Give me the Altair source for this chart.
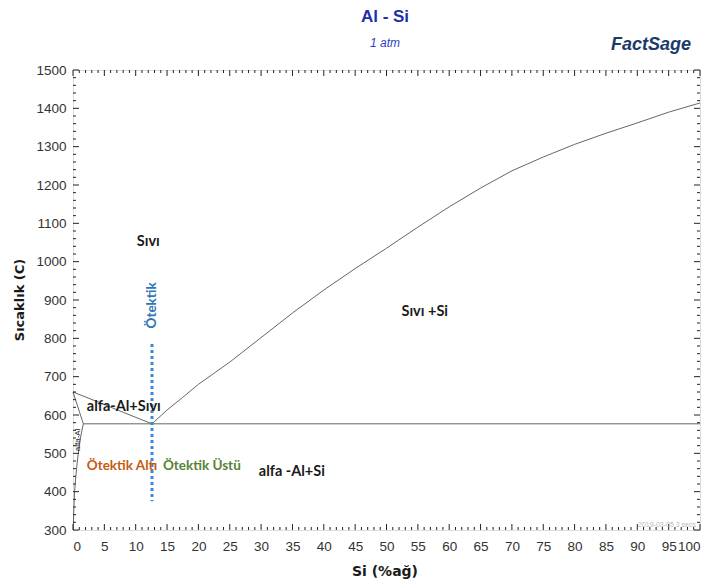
import altair as alt
import pandas as pd

# ---- data ----
liq_al_x = [0, 4, 8, 12.6]
liq_al_t = [660, 634, 607, 577]
liq_si_x = [12.6, 15, 17.5, 20, 25, 30, 35, 40, 45, 50, 55, 60, 65, 70, 75, 80, 85, 90, 95, 100]
liq_si_t = [577, 613, 646, 680, 738, 802, 866, 926, 982, 1035, 1090, 1143, 1192, 1237, 1273, 1306, 1335, 1362, 1390, 1414]
solidus_x = [0, 1.65]
solidus_t = [660, 577]
solvus_x = [1.65, 1.3, 1.0, 0.7, 0.45, 0.25, 0.12, 0.05]
solvus_t = [577, 550, 520, 480, 440, 400, 350, 300]
eutectic_x = [1.65, 100]
eutectic_t = [577, 577]
eut_comp = 12.6
eut_marker_t = [785, 375]

x_major = list(range(0, 101, 5))
x_minor = [v for v in range(0, 101) if v % 5]
y_major = list(range(300, 1501, 100))
y_minor = [v for v in range(300, 1501, 20) if v % 100]

W, H = 627, 460

segs = []
for name, xs_, ts_ in [("liq_al", liq_al_x, liq_al_t), ("liq_si", liq_si_x, liq_si_t),
                       ("solidus", solidus_x, solidus_t), ("solvus", solvus_x, solvus_t),
                       ("eutectic", eutectic_x, eutectic_t)]:
    for i, (a, b) in enumerate(zip(xs_, ts_)):
        segs.append({"seg": name, "i": i, "x": a, "t": b})
lines_df = pd.DataFrame(segs)

xs = alt.Scale(domain=[0, 100], nice=False, zero=False)
ys = alt.Scale(domain=[300, 1500], nice=False, zero=False)

x_axis = alt.Axis(values=x_major, ticks=False, domain=False, grid=False, labelPadding=9,
                  labelFontSize=13.5, labelFont="Liberation Sans", labelColor="#333333",
                  title=None, tickSize=0, format="d", labelOverlap=False, labelBound=False)
y_axis = alt.Axis(values=y_major, ticks=False, domain=False, grid=False, labelPadding=7,
                  labelFontSize=13.5, labelFont="Liberation Sans", labelColor="#333333",
                  title=None, tickSize=0, format="d", labelOverlap=False)

def X(field):
    return alt.X(field, scale=xs, axis=x_axis, title=None)

def Y(field):
    return alt.Y(field, scale=ys, axis=y_axis, title=None)

lines = alt.Chart(lines_df).mark_line(color="#555555", strokeWidth=0.9).encode(
    x=X("x:Q"), y=Y("t:Q"), detail="seg:N", order="i:Q")

marker = alt.Chart(pd.DataFrame({"x": [eut_comp, eut_comp], "t": eut_marker_t})).mark_line(
    color="#3b8ad9", strokeWidth=3, strokeDash=[3, 3]).encode(x=X("x:Q"), y=Y("t:Q"))

def ticks_x(vals, y0, y1):
    return alt.Chart(pd.DataFrame({"x": vals})).mark_rule(color="#222222", strokeWidth=1).encode(
        x=X("x:Q"), y=alt.value(y0), y2=alt.value(y1))

def ticks_y(vals, x0, x1):
    return alt.Chart(pd.DataFrame({"t": vals})).mark_rule(color="#222222", strokeWidth=1).encode(
        y=Y("t:Q"), x=alt.value(x0), x2=alt.value(x1))

tick_layers = [
    ticks_x(x_major, H, H - 6), ticks_x(x_minor, H, H - 3),
    ticks_x(x_major, 0, 6), ticks_x(x_minor, 0, 3),
    ticks_y(y_major, 0, 6), ticks_y(y_minor, 0, 3),
    ticks_y(y_major, W, W - 6), ticks_y(y_minor, W, W - 3),
]

def label(text, x, t, color="#1a1a1a", size=14.5, align="center", angle=0, weight="bold", font="Lato"):
    return alt.Chart(pd.DataFrame({"x": [x], "t": [t], "s": [text]})).mark_text(
        color=color, fontSize=size, align=align, baseline="middle", angle=angle,
        fontWeight=weight, font=font).encode(x=X("x:Q"), y=Y("t:Q"), text="s:N")

labels = [
    label("Sıvı", 12.0, 1051),
    label("Sıvı +Si", 56.1, 869),
    label("alfa-Al+Sıvı", 2.2, 621, align="left"),
    label("alfa -Al+Si", 34.9, 451),
    label("Ötektik Altı", 2.2, 467, color="#c55a11", align="left", size=13.5),
    label("Ötektik Üstü", 14.35, 467, color="#548235", align="left", size=13.5),
    label("Ötektik", eut_comp, 886, color="#2e75b6", angle=270, size=13.5),
    label("alfa-Al", 0.8, 535, size=8, angle=270, weight="normal", font="Liberation Sans"),
]

def ptext(text, x, y, color, size, weight="normal", style="normal", align="center", angle=0, font="Liberation Sans"):
    return alt.Chart(pd.DataFrame({"s": [text]})).mark_text(
        color=color, fontSize=size, fontWeight=weight, fontStyle=style, align=align,
        baseline="middle", angle=angle, font=font).encode(
        x=alt.value(x), y=alt.value(y), text="s:N")

texts = [
    ptext("Al - Si", 312, -53, "#1f2fa8", 17, weight="bold"),
    ptext("1 atm", 312, -27, "#2f3fc0", 12, style="italic"),
    ptext("FactSage", 578, -25, "#1b3a6b", 18, weight="bold", style="italic"),
    ptext("Sıcaklık (C)", -53, 230, "#1a1a1a", 13, weight="bold", angle=270, font="DejaVu Sans"),
    ptext("Si (%ağ)", 312, 502, "#1a1a1a", 14, weight="bold", font="DejaVu Sans"),
    ptext("2019-03-05 3 secs", 623, 455, "#b8b8b8", 7, align="right"),
]

chart = alt.layer(lines, marker, *tick_layers, *labels, *texts).properties(
    width=W, height=H,
    padding={"left": 65, "top": 62, "right": 4, "bottom": 50},
    autosize=alt.AutoSizeParams(type="none"),
).configure_view(stroke="#222222", strokeWidth=1.2).configure(background="white")

chart.save("out.html", embed_options={"renderer": "svg", "actions": False})
